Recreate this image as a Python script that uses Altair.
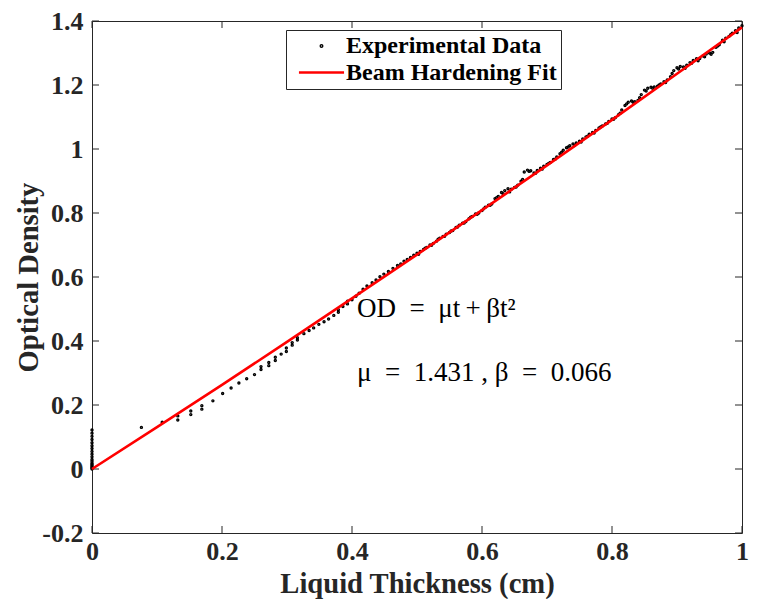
import altair as alt
import pandas as pd

W, H = 650, 512
PAD = {"left": 84, "top": 13, "right": 8, "bottom": 66}

# ---- data ----
fit_t = [0.0, 0.1, 0.2, 0.3, 0.4, 0.5, 0.6, 0.7, 0.8, 0.9, 1.0]
fit_od = [0.0, 0.131, 0.263, 0.397, 0.533, 0.670, 0.809, 0.949, 1.091, 1.235, 1.38]

zero_od = [0.0, 0.003, 0.006, 0.01, 0.014, 0.018, 0.024, 0.03, 0.038, 0.046, 0.055,
           0.064, 0.073, 0.082, 0.092, 0.102, 0.112, 0.122]

sparse_t = [0.076, 0.108, 0.132, 0.132, 0.152, 0.152, 0.169, 0.169, 0.186, 0.201,
            0.214, 0.226, 0.238, 0.250, 0.260, 0.260, 0.272, 0.272, 0.282, 0.282,
            0.291, 0.299, 0.299, 0.308, 0.308, 0.316, 0.316, 0.326, 0.334, 0.341,
            0.349, 0.357, 0.364, 0.372, 0.379, 0.379, 0.386, 0.393, 0.393, 0.400,
            0.406, 0.411, 0.417, 0.423, 0.431, 0.437, 0.443, 0.449, 0.456, 0.463]
sparse_od = [0.130, 0.146, 0.166, 0.153, 0.181, 0.170, 0.198, 0.187, 0.213, 0.236,
             0.253, 0.269, 0.282, 0.295, 0.311, 0.320, 0.323, 0.333, 0.339, 0.349,
             0.359, 0.367, 0.378, 0.387, 0.395, 0.403, 0.410, 0.423, 0.433, 0.441,
             0.452, 0.460, 0.469, 0.480, 0.490, 0.498, 0.508, 0.516, 0.524, 0.529,
             0.540, 0.549, 0.562, 0.572, 0.582, 0.591, 0.601, 0.609, 0.617, 0.627]

dense_t = [0.470, 0.475, 0.480, 0.485, 0.490, 0.495, 0.500, 0.505, 0.510, 0.515,
           0.520, 0.525, 0.530, 0.535, 0.540, 0.545, 0.550, 0.555, 0.560, 0.565,
           0.570, 0.575, 0.580, 0.585, 0.590, 0.595, 0.600, 0.605, 0.610, 0.615,
           0.620, 0.625, 0.630, 0.635, 0.640, 0.645, 0.650, 0.655, 0.660, 0.665,
           0.670, 0.675, 0.680, 0.685, 0.690, 0.695, 0.700, 0.705, 0.710, 0.715,
           0.720, 0.725, 0.730, 0.735, 0.740, 0.745, 0.750, 0.755, 0.760, 0.765,
           0.770, 0.775, 0.780, 0.785, 0.790, 0.795, 0.800, 0.805, 0.810, 0.815,
           0.820, 0.825, 0.830, 0.835, 0.840, 0.845, 0.850, 0.855, 0.860, 0.865,
           0.870, 0.875, 0.880, 0.885, 0.890, 0.895, 0.900, 0.905, 0.910, 0.915,
           0.920, 0.925, 0.930, 0.935, 0.940, 0.945, 0.950, 0.955, 0.960, 0.965,
           0.970, 0.975, 0.980, 0.985, 0.990, 0.995, 1.000]
dense_od = [0.636, 0.641, 0.649, 0.655, 0.661, 0.668, 0.674, 0.680, 0.686, 0.692,
            0.700, 0.705, 0.712, 0.721, 0.727, 0.734, 0.739, 0.745, 0.755, 0.762,
            0.768, 0.773, 0.782, 0.789, 0.797, 0.800, 0.808, 0.818, 0.824, 0.828,
            0.845, 0.852, 0.864, 0.870, 0.876, 0.874, 0.880, 0.887, 0.899, 0.928,
            0.934, 0.932, 0.925, 0.933, 0.940, 0.946, 0.952, 0.958, 0.967, 0.975,
            0.985, 0.996, 1.004, 1.010, 1.016, 1.019, 1.024, 1.031, 1.038, 1.046,
            1.052, 1.058, 1.066, 1.072, 1.078, 1.086, 1.094, 1.098, 1.107, 1.122,
            1.136, 1.146, 1.150, 1.148, 1.152, 1.170, 1.184, 1.190, 1.193, 1.194,
            1.196, 1.203, 1.210, 1.216, 1.226, 1.245, 1.254, 1.258, 1.256, 1.262,
            1.270, 1.277, 1.282, 1.283, 1.291, 1.297, 1.300, 1.302, 1.318, 1.326,
            1.340, 1.346, 1.352, 1.362, 1.370, 1.378, 1.385]

dense2_t = [0.5025, 0.5125, 0.5225, 0.5325, 0.5425, 0.5525, 0.5625, 0.5725, 0.5825, 0.5925,
            0.6025, 0.6125, 0.6225, 0.6325, 0.6425, 0.6525, 0.6625, 0.6725, 0.6825, 0.6925,
            0.7025, 0.7125, 0.7225, 0.7325, 0.7425, 0.7525, 0.7625, 0.7725, 0.7825, 0.7925,
            0.8025, 0.8125, 0.8225, 0.8325, 0.8425, 0.8525, 0.8625, 0.8725, 0.8825, 0.8925,
            0.9025, 0.9125, 0.9225, 0.9325, 0.9425, 0.9525, 0.9625, 0.9725, 0.9825, 0.9925]
dense2_od = [0.671, 0.690, 0.699, 0.718, 0.727, 0.744, 0.756, 0.769, 0.787, 0.796,
             0.813, 0.824, 0.848, 0.860, 0.866, 0.881, 0.905, 0.930, 0.924, 0.937,
             0.955, 0.968, 0.990, 1.006, 1.011, 1.022, 1.040, 1.050, 1.069, 1.080,
             1.093, 1.112, 1.141, 1.146, 1.160, 1.181, 1.190, 1.200, 1.208, 1.236,
             1.250, 1.252, 1.268, 1.276, 1.288, 1.296, 1.322, 1.335, 1.357, 1.364]

x_ticks = [0, 0.2, 0.4, 0.6, 0.8, 1]
y_ticks = [-0.2, 0, 0.2, 0.4, 0.6, 0.8, 1, 1.2, 1.4]

ann_t = [0.4, 0.4]
ann_od = [0.5, 0.3]
ann_text = ["OD\u2002=\u2002\u03bct\u2009+\u2009\u03b2t\u00b2",
            "\u03bc\u2002=\u20021.431 , \u03b2\u2002=\u20020.066"]

series_names = ["Experimental Data", "Beam Hardening Fit"]

# ---- tables ----
exp_t = [0.0] * len(zero_od) + sparse_t + dense_t + dense2_t
exp_od = zero_od + sparse_od + dense_od + dense2_od
exp_df = pd.DataFrame({"t": exp_t, "od": exp_od, "series": series_names[0]})
fit_df = pd.DataFrame({"t": fit_t, "od": fit_od, "series": series_names[1]})
xt_df = pd.DataFrame({"t": x_ticks})
yt_df = pd.DataFrame({"od": y_ticks})
ann_df = pd.DataFrame({"t": ann_t, "od": ann_od, "label": ann_text})

AX = "#262626"
FONT = "Liberation Serif"

xscale = alt.Scale(domain=[0, 1], nice=False, zero=False)
yscale = alt.Scale(domain=[-0.2, 1.4], nice=False, zero=False)

xaxis = alt.Axis(values=x_ticks, labelExpr="'' + datum.value", ticks=False, domain=False,
                 grid=False, labelFlush=False, labelFont=FONT, labelFontSize=26,
                 labelFontWeight="bold", labelColor=AX, labelPadding=5,
                 title="Liquid Thickness (cm)", titleFont=FONT, titleFontSize=28.6,
                 titleFontWeight="bold", titleColor=AX,
                 titleX=W / 2, titleY=59, titleAlign="center", titleBaseline="alphabetic")
yaxis = alt.Axis(values=y_ticks, labelExpr="'' + datum.value", ticks=False, domain=False,
                 grid=False, labelFlush=False, labelFont=FONT, labelFontSize=26,
                 labelFontWeight="bold", labelColor=AX, labelPadding=9,
                 title="Optical Density", titleFont=FONT, titleFontSize=28.6,
                 titleFontWeight="bold", titleColor=AX,
                 titleX=-64, titleY=H / 2, titleAngle=270, titleAlign="center",
                 titleBaseline="middle")

legend = alt.Legend(
    title=None, orient="none", legendX=194, legendY=9,
    fillColor="white", strokeColor=AX, padding=4, rowPadding=2, cornerRadius=0,
    labelFont=FONT, labelFontSize=24, labelFontWeight="bold", labelColor="black",
    labelLimit=400, symbolStrokeWidth=2.6, symbolOffset=19, labelOffset=12,
    symbolOpacity=1,
)
stroke = alt.Stroke("series:N", scale=alt.Scale(domain=series_names, range=["black", "#ff0000"]),
                    legend=legend)
shape = alt.Shape("series:N", scale=alt.Scale(domain=series_names,
                                              range=["circle", "M-2.05,0L2.05,0"]),
                  legend=legend)
size = alt.Size("series:N", scale=alt.Scale(domain=series_names, range=[2, 484]),
                legend=legend)

points = alt.Chart(exp_df).mark_point(filled=False, strokeWidth=2, opacity=1).encode(
    x=alt.X("t:Q", scale=xscale, axis=xaxis),
    y=alt.Y("od:Q", scale=yscale, axis=yaxis),
    stroke=stroke, shape=shape, size=size,
)
line = alt.Chart(fit_df).mark_line(strokeWidth=2.6).encode(
    x=alt.X("t:Q", scale=xscale, axis=xaxis),
    y=alt.Y("od:Q", scale=yscale, axis=yaxis),
    stroke=stroke,
)

tick_len = 7
xt_bottom = alt.Chart(xt_df).mark_rule(color=AX, strokeWidth=1).encode(
    x=alt.X("t:Q", scale=xscale, axis=xaxis), y=alt.value(H), y2=alt.value(H - tick_len))
xt_top = alt.Chart(xt_df).mark_rule(color=AX, strokeWidth=1).encode(
    x=alt.X("t:Q", scale=xscale, axis=xaxis), y=alt.value(0), y2=alt.value(tick_len))
yt_left = alt.Chart(yt_df).mark_rule(color=AX, strokeWidth=1).encode(
    y=alt.Y("od:Q", scale=yscale, axis=yaxis), x=alt.value(0), x2=alt.value(tick_len))
yt_right = alt.Chart(yt_df).mark_rule(color=AX, strokeWidth=1).encode(
    y=alt.Y("od:Q", scale=yscale, axis=yaxis), x=alt.value(W), x2=alt.value(W - tick_len))

ann = alt.Chart(ann_df).mark_text(font=FONT, fontSize=27, color="black", align="left",
                                  baseline="middle", dx=5).encode(
    x=alt.X("t:Q", scale=xscale, axis=xaxis),
    y=alt.Y("od:Q", scale=yscale, axis=yaxis),
    text="label:N",
)

chart = alt.layer(xt_bottom, xt_top, yt_left, yt_right, points, line, ann).properties(
    width=W, height=H,
    autosize=alt.AutoSizeParams(type="none"),
    padding=PAD,
    background="white",
).configure_view(stroke=AX, strokeWidth=1)

chart.save("out.html", embed_options={"renderer": "svg", "actions": False})
